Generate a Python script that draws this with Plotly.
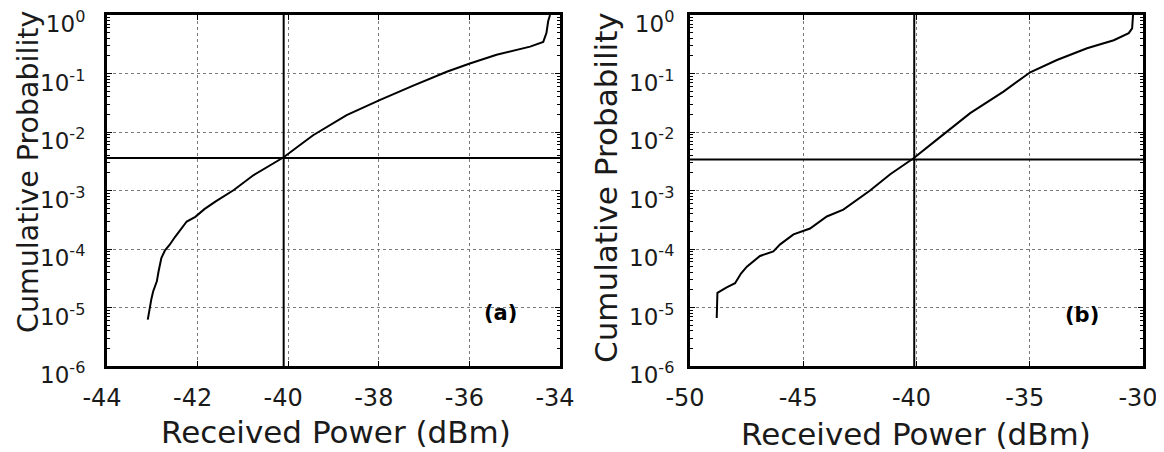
import plotly.graph_objects as go

# ---------------- data ----------------
# Panel (a)
a_power = [-43.10, -43.06, -43.02, -42.98, -42.93, -42.90, -42.86, -42.80, -42.72, -42.62,
           -42.50, -42.38, -42.24, -42.05, -41.85, -41.60, -41.20, -40.77, -40.40, -40.10,
           -39.74, -39.45, -38.71, -37.97, -37.24, -36.50, -35.99, -35.40, -34.66, -34.37,
           -34.30, -34.26, -34.22]
a_prob = [6.2e-6, 1.0e-5, 1.4e-5, 1.9e-5, 2.4e-5, 2.8e-5, 4.2e-5, 7.0e-5, 9.5e-5, 1.17e-4,
          1.6e-4, 2.1e-4, 2.95e-4, 3.55e-4, 4.8e-4, 6.5e-4, 1.02e-3, 1.82e-3, 2.7e-3, 3.7e-3,
          6.0e-3, 8.8e-3, 1.95e-2, 3.55e-2, 6.2e-2, 0.107, 0.148, 0.209, 0.288, 0.347,
          0.49, 0.79, 1.0]
a_ref_power = -40.1
a_ref_prob = 3.6e-3

# Panel (b)
b_power = [-48.82, -48.79, -48.38, -48.01, -47.75, -47.49, -46.91, -46.32, -46.02, -45.43,
           -44.70, -44.26, -43.96, -43.23, -42.63, -42.05, -41.16, -40.13, -39.10, -37.63,
           -36.16, -34.98, -33.80, -32.47, -31.29, -30.63, -30.48, -30.45, -30.44]
b_prob = [6.6e-6, 1.78e-5, 2.2e-5, 2.6e-5, 3.8e-5, 5.0e-5, 7.6e-5, 9.1e-5, 1.2e-4, 1.78e-4,
          2.24e-4, 2.95e-4, 3.6e-4, 4.7e-4, 6.9e-4, 1.0e-3, 1.9e-3, 3.55e-3, 7.4e-3, 2.1e-2,
          4.9e-2, 0.105, 0.17, 0.27, 0.37, 0.49, 0.59, 0.93, 1.0]
b_ref_power = -40.1
b_ref_prob = 3.4e-3

a_xticks = [-44, -42, -40, -38, -36, -34]
b_xticks = [-50, -45, -40, -35, -30]
y_tickvals = [1, 1e-1, 1e-2, 1e-3, 1e-4, 1e-5, 1e-6]
y_ticktext = ["10<sup>0</sup>", "10<sup>-1</sup>", "10<sup>-2</sup>", "10<sup>-3</sup>",
              "10<sup>-4</sup>", "10<sup>-5</sup>", "10<sup>-6</sup>"]
x_title = "Received Power (dBm)"
y_title = "Cumulative Probability"
panel_labels = ["(a)", "(b)"]

# ---------------- figure ----------------
# the page body has an 8px default margin, so the figure is sized/placed to
# compensate and fill the 1164x452 window exactly
OFF = 8
W, H = 1164 - OFF, 452 - OFF
FONT = "DejaVu Sans"


def px_x(p):
    return (p - OFF) / W


def px_y(p):
    return 1 - (p - OFF) / H


fig = go.Figure()

line_style = dict(color="black", width=2)

fig.add_trace(go.Scatter(x=a_power, y=a_prob, mode="lines", line=line_style,
                         xaxis="x", yaxis="y", showlegend=False))
fig.add_trace(go.Scatter(x=[a_ref_power, a_ref_power], y=[1e-6, 1], mode="lines",
                         line=line_style, xaxis="x", yaxis="y", showlegend=False))
fig.add_trace(go.Scatter(x=[a_xticks[0], a_xticks[-1]], y=[a_ref_prob, a_ref_prob], mode="lines",
                         line=line_style, xaxis="x", yaxis="y", showlegend=False))

fig.add_trace(go.Scatter(x=b_power, y=b_prob, mode="lines", line=line_style,
                         xaxis="x2", yaxis="y2", showlegend=False))
fig.add_trace(go.Scatter(x=[b_ref_power, b_ref_power], y=[1e-6, 1], mode="lines",
                         line=line_style, xaxis="x2", yaxis="y2", showlegend=False))
fig.add_trace(go.Scatter(x=[b_xticks[0], b_xticks[-1]], y=[b_ref_prob, b_ref_prob], mode="lines",
                         line=line_style, xaxis="x2", yaxis="y2", showlegend=False))

minor_vals = [m * 10 ** e for e in range(-6, 0) for m in range(2, 10)]


def xaxis(dom, ticks, anchor):
    return dict(domain=dom, range=[ticks[0], ticks[-1]], tickvals=ticks,
                ticktext=[str(t) for t in ticks], anchor=anchor,
                showline=True, linecolor="black", linewidth=3, mirror="allticks",
                ticks="inside", ticklen=5, tickwidth=1, tickcolor="black",
                showgrid=True, gridcolor="#7a7a7a", griddash="dot", gridwidth=1,
                zeroline=False, tickfont=dict(family=FONT, size=24, color="#1a1a1a"),
                ticklabelstandoff=8, ticklabelshift=-5,
                ticklabeloverflow="allow", automargin=False)


def yaxis(dom, anchor):
    return dict(domain=dom, type="log", range=[-6, 0], tickvals=y_tickvals,
                ticktext=y_ticktext, anchor=anchor,
                showline=True, linecolor="black", linewidth=3, mirror="allticks",
                ticks="inside", ticklen=5, tickwidth=1, tickcolor="black",
                minor=dict(tickvals=minor_vals, ticks="inside", ticklen=3,
                           tickcolor="black", showgrid=False),
                showgrid=True, gridcolor="#7a7a7a", griddash="dot", gridwidth=1,
                zeroline=False, tickfont=dict(family=FONT, size=23, color="#1a1a1a"),
                ticklabelshift=9, ticklabeloverflow="allow", automargin=False)


ydom = [px_y(366), px_y(15)]
fig.update_layout(
    width=W, height=H, autosize=False,
    margin=dict(l=0, r=0, t=0, b=0, pad=0, autoexpand=False),
    paper_bgcolor="white", plot_bgcolor="white",
    xaxis=xaxis([px_x(107), px_x(560)], a_xticks, "y"),
    yaxis=yaxis(ydom, "x"),
    xaxis2=xaxis([px_x(690), px_x(1143)], b_xticks, "y2"),
    yaxis2=yaxis(ydom, "x2"),
)
fig.layout.yaxis.ticklabelstandoff = 14
fig.layout.yaxis2.ticklabelstandoff = 8

title_font = dict(family=FONT, size=31, color="#1a1a1a")
ann = [
    dict(text=x_title, x=px_x(336), y=px_y(432), xref="paper", yref="paper",
         showarrow=False, font=title_font, xanchor="center", yanchor="middle"),
    dict(text=x_title, x=px_x(916), y=px_y(434), xref="paper", yref="paper",
         showarrow=False, font=title_font, xanchor="center", yanchor="middle"),
    dict(text=y_title, x=px_x(28), y=px_y(172), xref="paper", yref="paper",
         showarrow=False, font=dict(family=FONT, size=28.5, color="#1a1a1a"), textangle=-90,
         xanchor="center", yanchor="middle"),
    dict(text=y_title, x=px_x(606), y=px_y(188), xref="paper", yref="paper",
         showarrow=False, font=dict(family=FONT, size=31, color="#1a1a1a"), textangle=-90,
         xanchor="center", yanchor="middle"),
    dict(text=panel_labels[0], x=-35.32, y=-5.09, xref="x", yref="y", showarrow=False,
         font=dict(family=FONT, size=21, color="black", weight="bold"),
         xanchor="center", yanchor="middle"),
    dict(text=panel_labels[1], x=-32.69, y=-5.12, xref="x2", yref="y2", showarrow=False,
         font=dict(family=FONT, size=21, color="black", weight="bold"),
         xanchor="center", yanchor="middle"),
]
fig.update_layout(annotations=ann)

fig.write_html("out.html")
